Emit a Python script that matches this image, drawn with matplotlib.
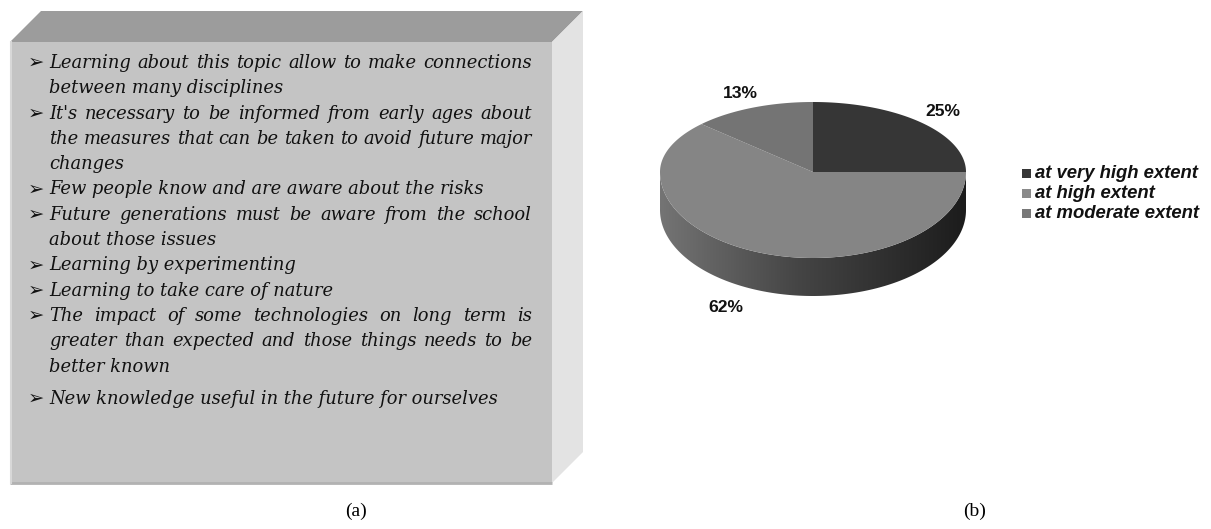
import matplotlib
matplotlib.use("Agg")
import matplotlib.pyplot as plt
from matplotlib.patches import Polygon
from matplotlib.colors import LinearSegmentedColormap
import numpy as np

W, H = 1211, 529

# panel (a): statements listed in the box, one list per bullet (lines as printed)
reasons = [
    ["Learning about this topic allow to make connections", "between many disciplines"],
    ["It's necessary to be informed from early ages about",
     "the measures that can be taken to avoid future major", "changes"],
    ["Few people know and are aware about the risks"],
    ["Future generations must be aware from the school", "about those issues"],
    ["Learning by experimenting"],
    ["Learning to take care of nature"],
    ["The impact of some technologies on long term is",
     "greater than expected and those things needs to be", "better known"],
    ["New knowledge useful in the future for ourselves"],
]

# panel (b): pie
labels = ["at very high extent", "at high extent", "at moderate extent"]
shares = [25, 62, 13]
top_colors = ["#363636", "#858585", "#747474"]
legend_colors = ["#363636", "#8a8a8a", "#787878"]

fig = plt.figure(figsize=(W / 100, H / 100), dpi=100)
ax = fig.add_axes([0, 0, 1, 1])
ax.set_xlim(0, W)
ax.set_ylim(H, 0)
ax.axis("off")

# ---- 3d box
x0, x1, y0, y1, d = 10, 552, 42, 483, 31
ax.add_patch(Polygon([(x0, y0), (x0 + d, y0 - d), (x1 + d, y0 - d), (x1, y0)], closed=True,
                     fc="#9c9c9c", ec="none"))
ax.add_patch(Polygon([(x1, y0), (x1 + d, y0 - d), (x1 + d, y1 - d), (x1, y1)], closed=True,
                     fc="#e3e3e3", ec="none"))
ax.add_patch(Polygon([(x0, y0), (x1, y0), (x1, y1), (x0, y1)], closed=True,
                     fc="#c4c4c4", ec="none"))
ax.plot([x0, x1], [y1, y1], color="#b2b2b2", lw=2, solid_capstyle="butt")
ax.plot([x0 + 0.5, x0 + 0.5], [y0, y1], color="#d8d8d8", lw=1.5)

# ---- bullet text, justified like the original
fig.canvas.draw()
renderer = fig.canvas.get_renderer()
tfont = dict(family="DejaVu Serif", style="italic", size=12.9, color="#111111")
tx, tright, bx = 49, 532, 28
step, para_gap = 25.3, 7


def text_width(s):
    t = ax.text(0, 0, s, **tfont)
    w = t.get_window_extent(renderer).width
    t.remove()
    return w


y = 63
for i, para in enumerate(reasons):
    if i == len(reasons) - 1:
        y += para_gap
    ax.text(bx, y + 5, "\u27a2", family="DejaVu Sans", size=14, weight="bold",
            color="#111111", va="baseline")
    for j, line in enumerate(para):
        last = j == len(para) - 1
        if last:
            ax.text(tx, y + 5, line, va="baseline", **tfont)
        else:
            words = line.split()
            widths = [text_width(w) for w in words]
            gap = (tright - tx - sum(widths)) / (len(words) - 1)
            xx = tx
            for w, wd in zip(words, widths):
                ax.text(xx, y + 5, w, va="baseline", **tfont)
                xx += wd + gap
        y += step

# ---- 3d pie
cx, cy, rx, ry_back, ry_front, depth = 813, 172, 153, 70, 86, 38


def rim(t):
    t = np.asarray(t, dtype=float)
    ry = np.where(np.sin(t) >= 0, ry_back, ry_front)
    return cx + rx * np.cos(t), cy - ry * np.sin(t)


tt = np.linspace(np.pi, 2 * np.pi, 200)
sx, sy = rim(tt)
side_xy = np.column_stack([np.r_[sx, sx[::-1]], np.r_[sy, (sy + depth)[::-1]]])
side = Polygon(side_xy, closed=True, fc="none", ec="none")
ax.add_patch(side)
side_cmap = LinearSegmentedColormap.from_list(
    "side", [(0, "#747474"), (0.45, "#454545"), (0.8, "#2b2b2b"), (1, "#1c1c1c")])
grad = ax.imshow(np.linspace(0, 1, 256)[None, :], cmap=side_cmap, aspect="auto",
                 extent=[cx - rx, cx + rx, cy + ry_front + depth, cy], zorder=1)
grad.set_clip_path(side)
ax.set_xlim(0, W)
ax.set_ylim(H, 0)

start = np.pi / 2
total = float(sum(shares))
for share, col in zip(shares, top_colors):
    span = 2 * np.pi * share / total
    ts = np.linspace(start, start - span, 200)
    px, py = rim(ts)
    ax.add_patch(Polygon(np.column_stack([np.r_[cx, px], np.r_[cy, py]]), closed=True,
                         fc=col, ec="none", zorder=2))
    mid = start - span / 2
    lx, ly = rim([mid])
    front = np.sin(mid) < 0
    lx = cx + (lx[0] - cx) * (1.55 if front else 1.2)
    ly = cy + (ly[0] - cy) * 1.22 + (depth if front else 0)
    ax.text(lx, ly, f"{share}%", family="Liberation Sans", weight="bold", size=12.6,
            ha="center", va="center", color="#111111", zorder=3)
    start -= span

# legend
for k, (lab, col) in enumerate(zip(labels, legend_colors)):
    ly = 173 + 20.3 * k
    ax.add_patch(Polygon([(1022, ly - 4.5), (1031, ly - 4.5), (1031, ly + 4.5), (1022, ly + 4.5)],
                         closed=True, fc=col, ec="none"))
    ax.text(1035, ly, lab, family="Liberation Sans", weight="bold", style="italic",
            size=13.3, va="center", color="#111111")

# captions
ax.text(356, 511, "(a)", family="Liberation Serif", size=14, ha="center", va="center")
ax.text(975, 511, "(b)", family="Liberation Serif", size=14, ha="center", va="center")

fig.savefig("out.png", dpi=100, facecolor="white")
